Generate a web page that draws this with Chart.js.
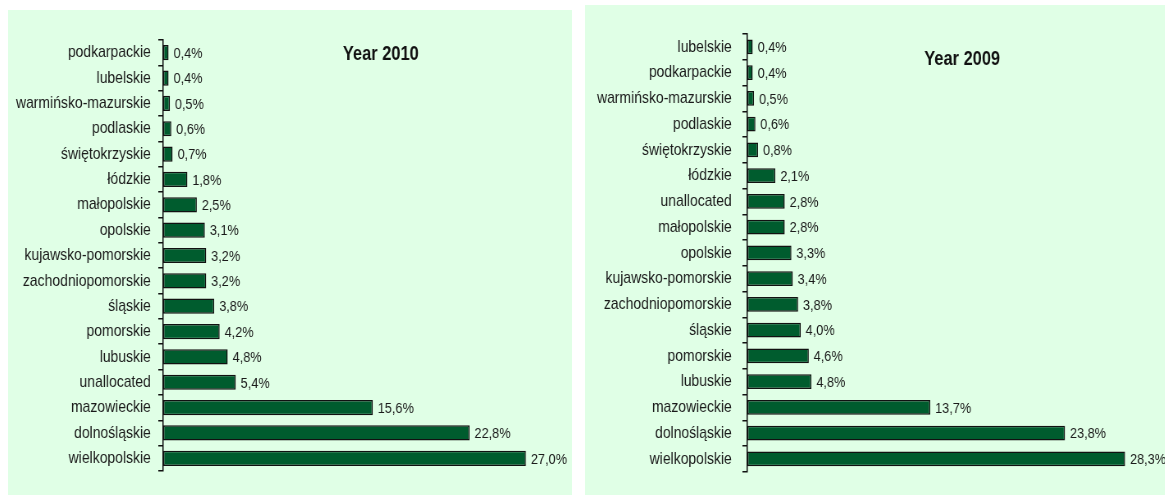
<!DOCTYPE html>
<html>
<head>
<meta charset="utf-8">
<script src="https://cdn.jsdelivr.net/npm/chart.js@4"></script>
<style>
    body { margin: 0; background: #ffffff; width: 1166px; height: 496px; position: relative; overflow: hidden; }
    .panel { position: absolute; background: #e0ffe6; overflow: hidden; }
    #panel2010 { left: 8px; top: 10px; width: 564px; height: 485px; }
    #panel2009 { left: 585px; top: 5px; width: 580px; height: 490px; }
    /* charts are drawn wide and squeezed horizontally to get a narrow typeface look */
    .squeeze { position: absolute; left: 0; top: 0; height: 100%; transform: scaleX(0.82); transform-origin: 0 0; }
    #panel2010 .squeeze { width: 687.8px; }
    #panel2009 .squeeze { width: 707.3px; }
</style>
</head>
<body>
<div class="panel" id="panel2010"><div class="squeeze"><canvas id="chart2010"></canvas></div></div>
<div class="panel" id="panel2009"><div class="squeeze"><canvas id="chart2009"></canvas></div></div>
<script>
// Year 2010 data
const regions2010 = [
    'podkarpackie', 'lubelskie', 'warmińsko-mazurskie', 'podlaskie', 'świętokrzyskie',
    'łódzkie', 'małopolskie', 'opolskie', 'kujawsko-pomorskie', 'zachodniopomorskie',
    'śląskie', 'pomorskie', 'lubuskie', 'unallocated', 'mazowieckie', 'dolnośląskie', 'wielkopolskie'
];
const values2010 = [0.4, 0.4, 0.5, 0.6, 0.7, 1.8, 2.5, 3.1, 3.2, 3.2, 3.8, 4.2, 4.8, 5.4, 15.6, 22.8, 27.0];

// Year 2009 data
const regions2009 = [
    'lubelskie', 'podkarpackie', 'warmińsko-mazurskie', 'podlaskie', 'świętokrzyskie',
    'łódzkie', 'unallocated', 'małopolskie', 'opolskie', 'kujawsko-pomorskie',
    'zachodniopomorskie', 'śląskie', 'pomorskie', 'lubuskie', 'mazowieckie', 'dolnośląskie', 'wielkopolskie'
];
const values2009 = [0.4, 0.4, 0.5, 0.6, 0.8, 2.1, 2.8, 2.8, 3.3, 3.4, 3.8, 4.0, 4.6, 4.8, 13.7, 23.8, 28.3];

const FONT = '"Liberation Sans", Arial, sans-serif';
const BAR_COLOR = '#005c2e';
const TEXT_COLOR = '#1a1a1a';

/**
 * Value labels at the end of each bar, e.g. "0,4%"
 */
const valueLabelPlugin = {
    id: 'valueLabels',
    afterDatasetsDraw(chart) {
        const ctx = chart.ctx;
        const meta = chart.getDatasetMeta(0);
        ctx.save();
        ctx.font = '15.5px ' + FONT;
        ctx.fillStyle = TEXT_COLOR;
        ctx.textAlign = 'left';
        ctx.textBaseline = 'middle';
        meta.data.forEach((bar, i) => {
            const v = chart.data.datasets[0].data[i];
            ctx.fillText(v.toFixed(1).replace('.', ',') + '%', bar.x + 6, bar.y + 1);
        });
        ctx.restore();
    }
};

/**
 * Bold year caption inside the plot
 */
const yearTitlePlugin = {
    id: 'yearTitle',
    afterDraw(chart, args, opts) {
        const ctx = chart.ctx;
        ctx.save();
        ctx.font = 'bold 20px ' + FONT;
        ctx.fillStyle = '#111111';
        ctx.textAlign = 'center';
        ctx.textBaseline = 'middle';
        ctx.fillText(opts.text, opts.x, opts.y);
        ctx.restore();
    }
};

function createYearChart(canvasId, labels, values, cfg) {
    const ctx = document.getElementById(canvasId);
    return new Chart(ctx, {
        type: 'bar',
        data: {
            labels: labels,
            datasets: [{
                data: values,
                backgroundColor: BAR_COLOR,
                borderColor: '#111111',
                borderWidth: 1.5,
                borderSkipped: false,
                barPercentage: cfg.barPercentage,
                categoryPercentage: 1
            }]
        },
        options: {
            indexAxis: 'y',
            responsive: true,
            maintainAspectRatio: false,
            animation: false,
            layout: { padding: { top: cfg.top, bottom: cfg.bottom, left: 0, right: cfg.right } },
            plugins: {
                legend: { display: false },
                tooltip: { enabled: false },
                yearTitle: { text: cfg.title, x: cfg.titleX, y: cfg.titleY }
            },
            scales: {
                x: {
                    display: false,
                    min: 0,
                    max: 30
                },
                y: {
                    afterFit: (scale) => { scale.width = cfg.axisWidth; },
                    border: { display: true, color: '#111111', width: 1.5 },
                    grid: {
                        drawOnChartArea: false,
                        drawTicks: true,
                        tickLength: 6,
                        color: '#111111',
                        lineWidth: 1.5
                    },
                    ticks: {
                        color: TEXT_COLOR,
                        padding: cfg.labelPad,
                        font: { family: FONT, size: 17 }
                    }
                }
            }
        },
        plugins: [valueLabelPlugin, yearTitlePlugin]
    });
}

document.addEventListener('DOMContentLoaded', () => {
    createYearChart('chart2010', regions2010, values2010, {
        title: 'Year 2010', titleX: 454, titleY: 44,
        top: 30, bottom: 24, right: 8, axisWidth: 189, barPercentage: 0.6, labelPad: 9
    });
    createYearChart('chart2009', regions2009, values2009, {
        title: 'Year 2009', titleX: 460, titleY: 54,
        top: 29, bottom: 21, right: 21, axisWidth: 198, barPercentage: 0.57, labelPad: 13
    });
});
</script>
</body>
</html>
